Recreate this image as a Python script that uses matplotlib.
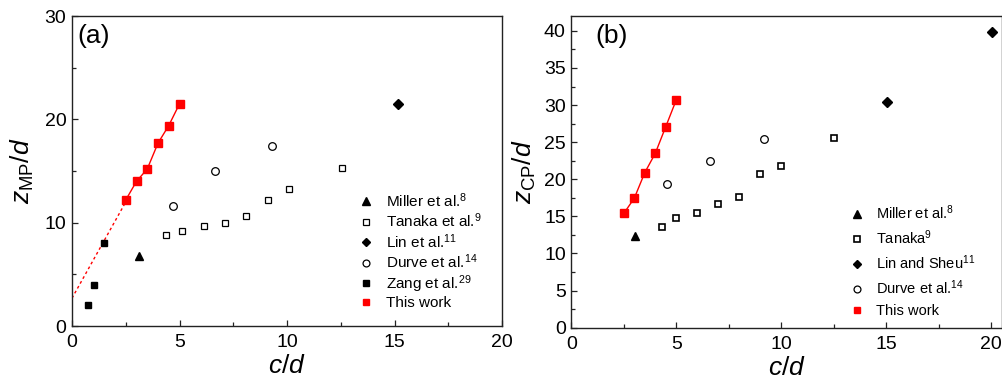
import numpy as np
import matplotlib
matplotlib.use("Agg")
import matplotlib.pyplot as plt
from matplotlib.ticker import MultipleLocator

plt.rcParams["font.family"] = ["Liberation Sans", "DejaVu Sans"]
plt.rcParams["mathtext.fontset"] = "custom"
plt.rcParams["mathtext.rm"] = "Liberation Sans"
plt.rcParams["mathtext.it"] = "Liberation Sans:italic"
plt.rcParams["mathtext.bf"] = "Liberation Sans:bold"

# ---------------- (a) magnetic-pole position z_MP/d ----------------
a_miller_x, a_miller_y = [3.1], [6.8]
a_tanaka_x = [4.35, 5.1, 6.15, 7.1, 8.1, 9.1, 10.1, 12.55]
a_tanaka_y = [8.8, 9.2, 9.7, 10.0, 10.65, 12.15, 13.3, 15.3]
a_lin_x, a_lin_y = [15.15], [21.5]
a_durve_x = [4.7, 6.65, 9.3]
a_durve_y = [11.6, 15.0, 17.4]
a_zang_x = [0.75, 1.0, 1.5]
a_zang_y = [2.0, 4.0, 8.0]
a_this_x = [2.5, 3.0, 3.5, 4.0, 4.5, 5.0]
a_this_y = [12.2, 14.0, 15.2, 17.7, 19.4, 21.5]

# ---------------- (b) centre-point position z_CP/d ----------------
b_miller_x, b_miller_y = [3.05], [12.4]
b_tanaka_x = [4.3, 5.0, 6.0, 7.0, 8.0, 9.0, 10.0, 12.5]
b_tanaka_y = [13.6, 14.75, 15.5, 16.7, 17.6, 20.65, 21.8, 25.6]
b_lin_x = [15.05, 20.05]
b_lin_y = [30.45, 39.8]
b_durve_x = [4.55, 6.6, 9.2]
b_durve_y = [19.3, 22.45, 25.45]
b_this_x = [2.5, 3.0, 3.5, 4.0, 4.5, 5.0]
b_this_y = [15.4, 17.45, 20.9, 23.5, 27.1, 30.7]

RED = "#ff0000"

fig = plt.figure(figsize=(10.03, 3.85), dpi=100)
ax1 = fig.add_axes([0.0718, 0.1532, 0.4287, 0.8052])
ax2 = fig.add_axes([0.5696, 0.1488, 0.4291, 0.8096])


def style_axes(ax, ymajor, yminor):
    ax.xaxis.set_major_locator(MultipleLocator(5))
    ax.xaxis.set_minor_locator(MultipleLocator(2.5))
    ax.yaxis.set_major_locator(MultipleLocator(ymajor))
    ax.yaxis.set_minor_locator(MultipleLocator(yminor))
    ax.tick_params(which="both", direction="in", top=False, right=False,
                   labelsize=14, colors="#222222", labelcolor="black")
    ax.tick_params(which="major", length=4.5, width=0.9)
    ax.tick_params(which="minor", length=3, width=0.9)
    ax.tick_params(axis="x", which="major", pad=6)
    ax.tick_params(axis="y", which="major", pad=4)
    for s in ax.spines.values():
        s.set_linewidth(1.0)
        s.set_color("#222222")


# ---- panel (a)
ax1.plot(a_miller_x, a_miller_y, "^", color="black", ms=6, ls="none",
         label=r"Miller et al.$^{8}$")
ax1.plot(a_tanaka_x, a_tanaka_y, "s", mfc="white", mec="black", mew=0.9,
         ms=4.8, ls="none", label=r"Tanaka et al.$^{9}$")
ax1.plot(a_lin_x, a_lin_y, "D", color="black", ms=4.8, ls="none",
         label=r"Lin et al.$^{11}$")
ax1.plot(a_durve_x, a_durve_y, "o", mfc="white", mec="black", mew=0.9,
         ms=5.5, ls="none", label=r"Durve et al.$^{14}$")

# linear fit of this work, extrapolated towards c/d = 0
slope, icpt = np.polyfit(a_this_x, a_this_y, 1)
xe = np.array([0.0, a_this_x[0]])
ax1.plot(xe, slope * xe + icpt, ls=(0, (2, 2)), color=RED, lw=1.0)

ax1.plot(a_zang_x, a_zang_y, "s", color="black", ms=5, ls="none",
         label=r"Zang et al.$^{29}$")
ax1.plot(a_this_x, a_this_y, "-", color=RED, lw=1.0)
ax1.plot(a_this_x, a_this_y, "s", color=RED, ms=5.5, ls="none",
         label="This work")

ax1.set_xlim(0, 20)
ax1.set_ylim(0, 30)
style_axes(ax1, 10, 5)
ax1.set_xlabel(r"$c/d$", fontsize=19, labelpad=2)
ax1.set_ylabel(r"$z_{\mathrm{MP}}/d$", fontsize=19, labelpad=6)
ax1.text(0.012, 0.975, "(a)", transform=ax1.transAxes, fontsize=19,
         ha="left", va="top")
ax1.legend(loc="upper left", bbox_to_anchor=(0.665, 0.435), frameon=False,
           fontsize=11, markerscale=0.9, handlelength=1.0,
           handletextpad=0.85, labelspacing=0.12, borderpad=0,
           borderaxespad=0)

# ---- panel (b)
ax2.plot(b_miller_x, b_miller_y, "^", color="black", ms=6, ls="none",
         label=r"Miller et al.$^{8}$")
ax2.plot(b_tanaka_x, b_tanaka_y, "s", mfc="white", mec="black", mew=1.2,
         ms=4.8, ls="none", label=r"Tanaka$^{9}$")
ax2.plot(b_lin_x, b_lin_y, "D", color="black", ms=4.8, ls="none",
         label=r"Lin and Sheu$^{11}$")
ax2.plot(b_durve_x, b_durve_y, "o", mfc="white", mec="black", mew=0.9,
         ms=5.5, ls="none", label=r"Durve et al.$^{14}$")
ax2.plot(b_this_x, b_this_y, "-", color=RED, lw=1.0)
ax2.plot(b_this_x, b_this_y, "s", color=RED, ms=5.5, ls="none",
         label="This work")

ax2.set_xlim(0, 20.5)
ax2.set_ylim(0, 42)
style_axes(ax2, 5, 2.5)
ax2.set_xlabel(r"$c/d$", fontsize=19, labelpad=2)
ax2.set_ylabel(r"$z_{\mathrm{CP}}/d$", fontsize=19, labelpad=4)
ax2.text(0.055, 0.975, "(b)", transform=ax2.transAxes, fontsize=19,
         ha="left", va="top")
ax2.legend(loc="upper left", bbox_to_anchor=(0.648, 0.40), frameon=False,
           fontsize=10.5, markerscale=0.9, handlelength=1.0,
           handletextpad=0.8, labelspacing=0.45, borderpad=0,
           borderaxespad=0)

fig.savefig("out.png", dpi=100)
